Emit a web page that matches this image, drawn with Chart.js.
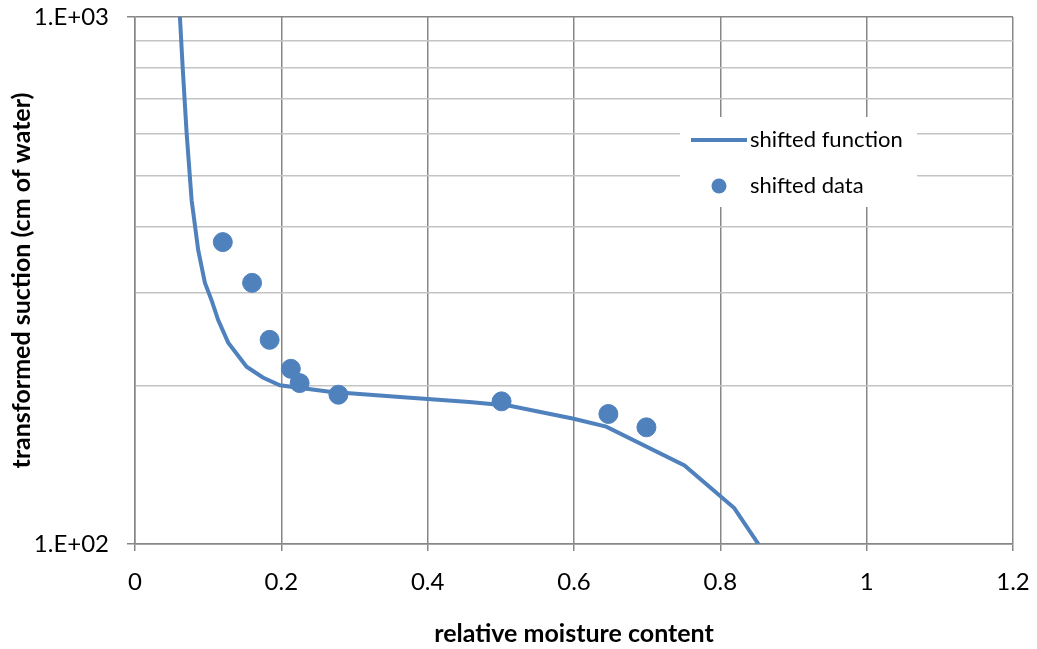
<!DOCTYPE html>
<html>
<head>
<meta charset="utf-8">
<script src="https://cdn.jsdelivr.net/npm/chart.js@4.4.1/dist/chart.umd.min.js"></script>
<style>
  body { margin: 0; background: #fff; }
  #wrap { width: 1037px; height: 649px; }
</style>
</head>
<body>
<div id="wrap"><canvas id="myChart" width="1037" height="649"></canvas></div>
<script>
// shifted function (curve)
const fnX = [0.0614, 0.0651, 0.0706, 0.0774, 0.0864, 0.0956, 0.1047, 0.1137, 0.1274, 0.1525, 0.1747,
  0.198, 0.266, 0.362, 0.457, 0.512, 0.598, 0.644, 0.751, 0.819, 0.852];
const fnY = [1000, 805, 601, 449, 361, 313, 290, 266, 241, 217, 207,
  200, 194.5, 190, 186, 183, 173, 167, 141, 117, 100];

// shifted data (points)
const dataX = [0.120, 0.160, 0.184, 0.213, 0.225, 0.278, 0.501, 0.647, 0.699];
const dataY = [374, 313, 244, 215, 202, 192, 186.5, 176.5, 166.5];

const xTicks = [0, 0.2, 0.4, 0.6, 0.8, 1, 1.2];
const yTicks = [100, 200, 300, 400, 500, 600, 700, 800, 900, 1000];
const yLabels = { 100: '1.E+02', 1000: '1.E+03' };

const BLUE = '#4F81BD';
const FONT = 'Lato, "Open Sans", sans-serif';

let toXY = (xs, ys) => xs.map((x, i) => ({ x: x, y: ys[i] }));

// legend drawn inside the plot, like the excel one
const insideLegend = {
  id: 'insideLegend',
  afterDraw(chart) {
    const ctx = chart.ctx;
    const a = chart.chartArea;
    const bx = a.left + 545, by = a.top + 100;
    ctx.save();
    ctx.fillStyle = '#fff';
    ctx.fillRect(bx, by, 237, 90);
    ctx.strokeStyle = BLUE;
    ctx.lineWidth = 4;
    ctx.beginPath();
    ctx.moveTo(bx + 11, by + 23);
    ctx.lineTo(bx + 67, by + 23);
    ctx.stroke();
    ctx.fillStyle = BLUE;
    ctx.beginPath();
    ctx.arc(bx + 39, by + 69, 7.5, 0, Math.PI * 2);
    ctx.fill();
    ctx.fillStyle = '#000';
    ctx.font = '22px ' + FONT;
    ctx.textBaseline = 'middle';
    ctx.fillText('shifted function', bx + 70, by + 23);
    ctx.fillText('shifted data', bx + 70, by + 69);
    ctx.restore();
  }
};

const ctx = document.getElementById('myChart');
const config = {
  type: 'scatter',
  data: {
    datasets: [{
      label: 'shifted data',
      data: toXY(dataX, dataY),
      backgroundColor: BLUE,
      borderColor: BLUE,
      pointRadius: 9.5,
      order: 1
    }, {
      label: 'shifted function',
      data: toXY(fnX, fnY),
      showLine: true,
      borderColor: BLUE,
      borderWidth: 4,
      pointRadius: 0,
      tension: 0,
      order: 2
    }]
  },
  options: {
    responsive: false,
    animation: false,
    layout: { padding: { top: 17, right: 24, left: 0, bottom: 0 } },
    plugins: { legend: { display: false }, tooltip: { enabled: false } },
    scales: {
      x: {
        type: 'linear',
        min: 0, max: 1.2,
        afterBuildTicks: (s) => { s.ticks = xTicks.map(v => ({ value: v })); },
        afterFit: (s) => { s.height = 105; s.paddingLeft = 0; s.paddingRight = 0; },
        grid: { color: '#878787', lineWidth: 1.5, tickLength: 7, tickColor: '#878787' },
        border: { color: '#878787', width: 1.5 },
        ticks: {
          color: '#000', font: { family: FONT, size: 24 }, padding: 17,
          callback: (v) => String(Number(v.toFixed(1)))
        },
        title: {
          display: true, text: 'relative moisture content', color: '#000',
          font: { family: FONT, size: 25, weight: 'bold' }, padding: { top: 13, bottom: 0 }
        }
      },
      y: {
        type: 'logarithmic',
        min: 100, max: 1000,
        afterBuildTicks: (s) => { s.ticks = yTicks.map(v => ({ value: v, major: v in yLabels })); },
        afterFit: (s) => { s.width = 135; s.paddingTop = 0; s.paddingBottom = 0; },
        grid: {
          color: (c) => (c.tick && (c.tick.value in yLabels)) ? '#878787' : '#c4c4c4',
          lineWidth: 1.5, tickLength: 8,
          tickColor: (c) => (c.tick && (c.tick.value in yLabels)) ? '#878787' : 'rgba(0,0,0,0)'
        },
        border: { color: '#878787', width: 1.5 },
        ticks: {
          color: '#000', font: { family: FONT, size: 24 }, padding: 18, autoSkip: false,
          callback: (v) => yLabels[v] || ''
        },
        title: {
          display: true, text: 'transformed suction (cm of water)', color: '#000',
          font: { family: FONT, size: 25, weight: 'bold' }, padding: { top: 7, bottom: 0 }
        }
      }
    }
  },
  plugins: [insideLegend]
};
const chart = new Chart(ctx, config);
</script>
</body>
</html>
